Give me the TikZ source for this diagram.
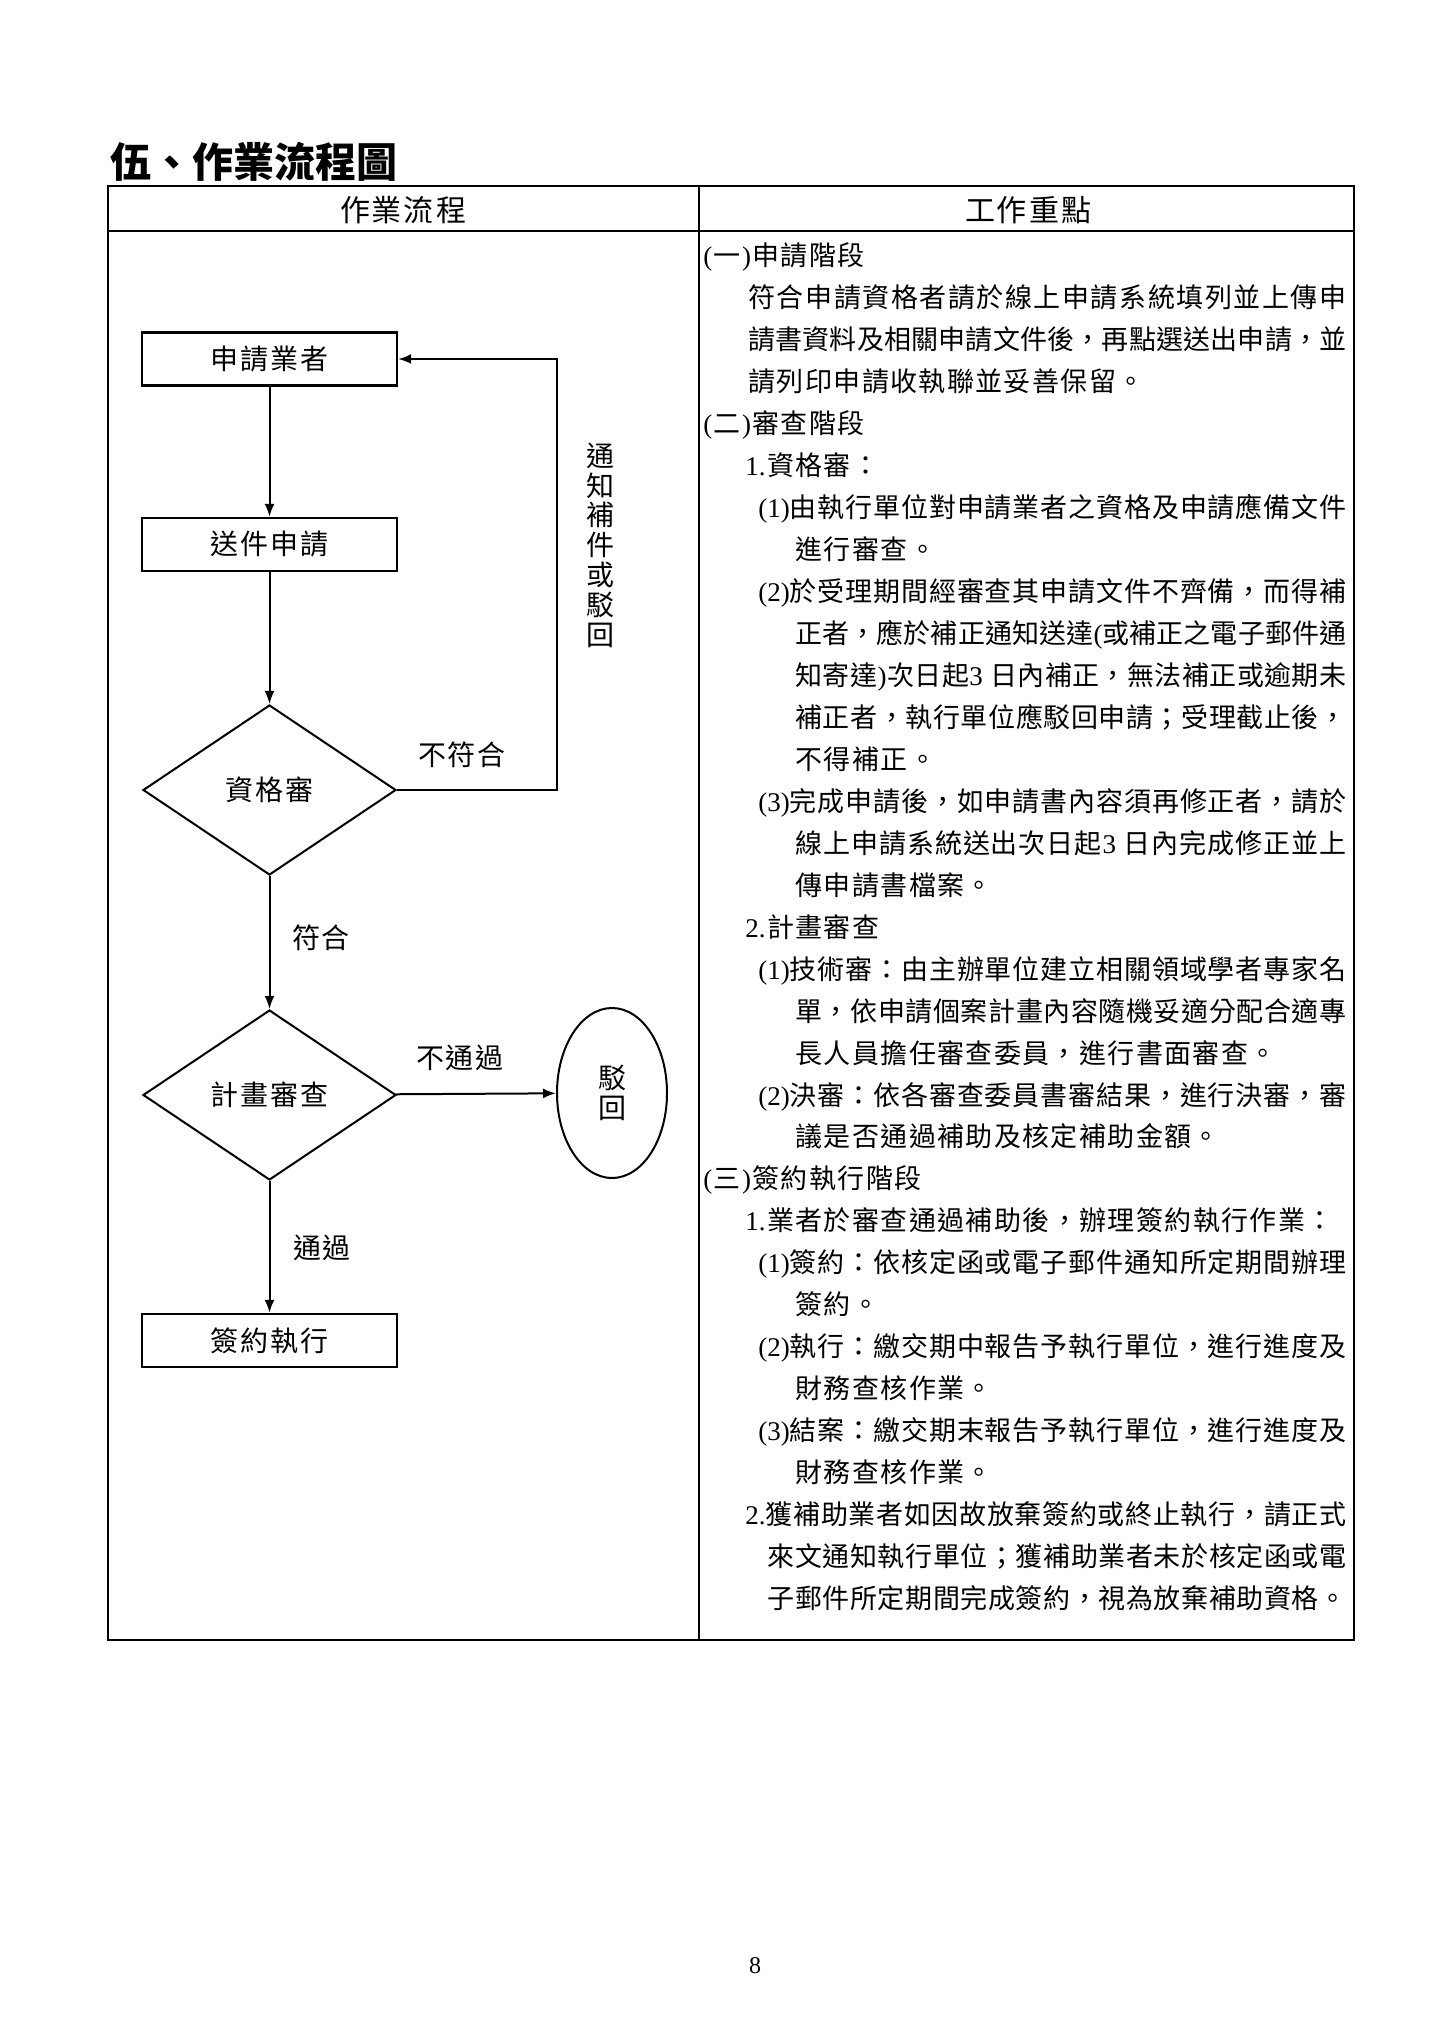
\documentclass[tikz,border=0pt]{standalone}
\usepackage{fontspec}
\setmainfont{Noto Sans CJK TC}
\newfontfamily\lat{Liberation Serif}
\usetikzlibrary{shapes.geometric,arrows.meta}
\newcommand\flowfont{\fontsize{14}{16}\selectfont}
\newcommand\bodyfont{\fontsize{13.5}{16}\selectfont}
\def\sprEnd{\relax SPREND}
\def\sprglue{\hfil}
\def\sprA#1{{#1}\sprB}
\def\sprB#1{\ifx\sprEnd#1\else\sprglue{#1}\expandafter\sprB\fi}
% justified line: name, index, x, prefix, text
\newcommand\jl[5]{%
  \pgfmathsetlengthmacro\jlw{0.5pt*(1346-#3)}%
  \node[tline] (#1) at (#3,{266+41.95*(#2-1)}) {\def\sprglue{\hfil}\hbox to \jlw{#4\sprA#5\sprEnd}};}
% plain line: name, index, x, text
\newcommand\pl[4]{%
  \node[tline] (#1) at (#3,{266+41.95*(#2-1)}) {\def\sprglue{\hskip0.7pt}\hbox{\sprA#4\sprEnd}};}
\begin{document}
\begin{tikzpicture}[x=0.5pt,y=-0.5pt,
  tline/.style={anchor=base west,inner sep=0pt,font=\bodyfont},
  box/.style={draw,line width=1.2pt,rectangle,minimum width=127.5pt,minimum height=26.5pt,inner sep=0pt,font=\flowfont},
  dec/.style={draw,line width=1pt,diamond,aspect=1.5,minimum width=126.5pt,minimum height=85pt,inner sep=0pt,font=\flowfont},
  term/.style={draw,line width=1pt,ellipse,minimum width=55pt,minimum height=85pt,inner sep=0pt,font=\flowfont,align=center},
  arr/.style={line width=1pt,-{Latex[length=6.5pt,width=5pt]}},
  lbl/.style={inner sep=0pt,font=\flowfont},
  frame/.style={line width=1pt}]
\fill[white] (0,0) rectangle (1440,2037);
\useasboundingbox (0,0) rectangle (1440,2037);

% title
\node[anchor=west,inner sep=0pt,font=\fontsize{20.5}{24}\selectfont\bfseries] (title) at (110,162) {伍、作業流程圖};

% table frame
\draw[frame] (107.5,186) rectangle (1354,1640);
\draw[frame] (107.5,231) -- (1354,231);
\draw[frame] (698.5,186) -- (698.5,1640);
\node[inner sep=0pt,font=\fontsize{15}{18}\selectfont] (h1) at (403,210) {作\hskip1pt 業\hskip1pt 流\hskip1pt 程};
\node[inner sep=0pt,font=\fontsize{15}{18}\selectfont] (h2) at (1028,210) {工\hskip1pt 作\hskip1pt 重\hskip1pt 點};

% flowchart nodes
\node[box] (A) at (269.5,359) {申\hskip1pt 請\hskip1pt 業\hskip1pt 者};
\node[box] (B) at (269.5,544.5) {送\hskip1pt 件\hskip1pt 申\hskip1pt 請};
\node[dec] (C) at (269.5,790) {資\hskip1pt 格\hskip1pt 審};
\node[dec] (D) at (269.5,1095) {計\hskip1pt 畫\hskip1pt 審\hskip1pt 查};
\node[box] (E) at (269.5,1340.5) {簽\hskip1pt 約\hskip1pt 執\hskip1pt 行};
\node[term,font=\fontsize{14}{15}\selectfont] (F) at (612,1093) {駁\\回};
\coordinate (fb) at (557,790);

\draw[arr] (A) -- (B);
\draw[arr] (B) -- (C);
\draw[arr] (C.east) -- (fb) |- (A.east);
\draw[arr] (C) -- (D);
\draw[arr] (D) -- (F);
\draw[arr] (D) -- (E);

\node[lbl] (nf) at (462,755) {不\hskip1pt 符\hskip1pt 合};
\node[lbl] (ok) at (321,938) {符\hskip1pt 合};
\node[lbl] (np) at (460,1058) {不\hskip1pt 通\hskip1pt 過};
\node[lbl] (ps) at (322,1248) {通\hskip1pt 過};
\node[lbl,align=center,font=\fontsize{14}{14.9}\selectfont] (vt) at (600,545) {通\\知\\補\\件\\或\\駁\\回};

% right column
\pl{l1}{1}{703}{{\lat(}一{\lat)}申請階段}
\jl{l2}{2}{748}{}{符合申請資格者請於線上申請系統填列並上傳申}
\jl{l3}{3}{748}{}{請書資料及相關申請文件後，再點選送出申請，並}
\pl{l4}{4}{748}{請列印申請收執聯並妥善保留。}
\pl{l5}{5}{703}{{\lat(}二{\lat)}審查階段}
\pl{l6}{6}{745}{{\lat 1.}資格審：}
\jl{l7}{7}{758}{{\lat(1)}}{由執行單位對申請業者之資格及申請應備文件}
\pl{l8}{8}{795}{進行審查。}
\jl{l9}{9}{758}{{\lat(2)}}{於受理期間經審查其申請文件不齊備，而得補}
\jl{l10}{10}{795}{}{正者，應於補正通知送達{\lat(}或補正之電子郵件通}
\jl{l11}{11}{795}{}{知寄達{\lat)}次日起{\lat 3\ }日內補正，無法補正或逾期未}
\jl{l12}{12}{795}{}{補正者，執行單位應駁回申請；受理截止後，}
\pl{l13}{13}{795}{不得補正。}
\jl{l14}{14}{758}{{\lat(3)}}{完成申請後，如申請書內容須再修正者，請於}
\jl{l15}{15}{795}{}{線上申請系統送出次日起{\lat 3\ }日內完成修正並上}
\pl{l16}{16}{795}{傳申請書檔案。}
\pl{l17}{17}{745}{{\lat 2.}計畫審查}
\jl{l18}{18}{758}{{\lat(1)}}{技術審：由主辦單位建立相關領域學者專家名}
\jl{l19}{19}{795}{}{單，依申請個案計畫內容隨機妥適分配合適專}
\pl{l20}{20}{795}{長人員擔任審查委員，進行書面審查。}
\jl{l21}{21}{758}{{\lat(2)}}{決審：依各審查委員書審結果，進行決審，審}
\pl{l22}{22}{795}{議是否通過補助及核定補助金額。}
\pl{l23}{23}{703}{{\lat(}三{\lat)}簽約執行階段}
\pl{l24}{24}{745}{{\lat 1.}業者於審查通過補助後，辦理簽約執行作業：}
\jl{l25}{25}{758}{{\lat(1)}}{簽約：依核定函或電子郵件通知所定期間辦理}
\pl{l26}{26}{795}{簽約。}
\jl{l27}{27}{758}{{\lat(2)}}{執行：繳交期中報告予執行單位，進行進度及}
\pl{l28}{28}{795}{財務查核作業。}
\jl{l29}{29}{758}{{\lat(3)}}{結案：繳交期末報告予執行單位，進行進度及}
\pl{l30}{30}{795}{財務查核作業。}
\jl{l31}{31}{745}{{\lat 2.}}{獲補助業者如因故放棄簽約或終止執行，請正式}
\jl{l32}{32}{767}{}{來文通知執行單位；獲補助業者未於核定函或電}
\jl{l33}{33}{767}{}{子郵件所定期間完成簽約，視為放棄補助資格。}

% page number
\node[inner sep=0pt,font=\lat\fontsize{12}{14}\selectfont] (pg) at (755,1966) {8};
\end{tikzpicture}
\end{document}
